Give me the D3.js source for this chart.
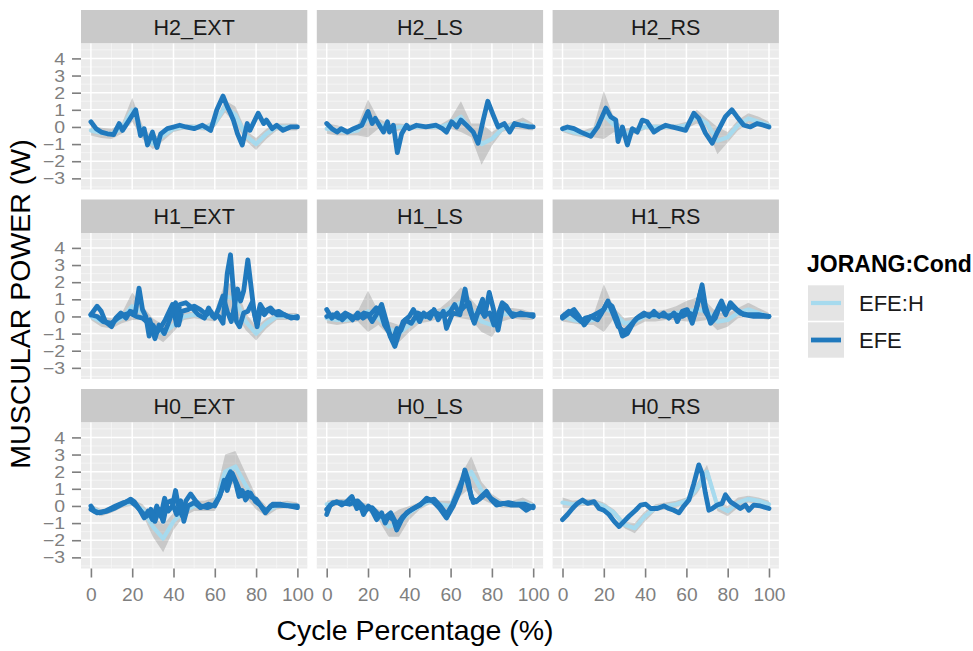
<!DOCTYPE html>
<html>
<head>
<meta charset="utf-8">
<script src="https://cdn.jsdelivr.net/npm/d3@7"></script>
<style>
  body { margin: 0; background: #ffffff; }
  text { font-family: "Liberation Sans", Arial, Helvetica, sans-serif; }
</style>
</head>
<body>
<svg id="chart" width="973" height="651"></svg>
<script>
// ---- data ----------------------------------------------------------------
const facetNames = ["H2_EXT", "H2_LS", "H2_RS", "H1_EXT", "H1_LS", "H1_RS", "H0_EXT", "H0_LS", "H0_RS"];
const xTicks = [0, 20, 40, 60, 80, 100];
const yTicks = [-3, -2, -1, 0, 1, 2, 3, 4];
const legendLabels = ["EFE:H", "EFE"];

// cycle percentage grid for the EFE:H mean curve and its spread
const cyclePct = [0, 5, 10, 15, 20, 25, 30, 35, 40, 45, 50, 55, 60, 65, 70, 75, 80, 85, 90, 95, 100];

// EFE:H mean power (W) and standard deviation, per facet
const meanH2_EXT = [-0.2,-0.35,-0.4,-0.1,1.0,-0.3,-1.0,-0.5,-0.1,0,0,-0.05,0.2,1.2,0.7,-0.5,-1.0,-0.4,0,0,0];
const sdH2_EXT   = [0.3,0.3,0.3,0.3,0.7,0.4,0.3,0.3,0.2,0.15,0.15,0.15,0.2,0.35,0.5,0.3,0.35,0.3,0.2,0.2,0.2];
const meanH2_LS  = [-0.1,-0.2,-0.3,-0.2,0.5,0.2,-0.1,0,0,0,0,0,0.2,0.6,-0.2,-1.0,-0.7,-0.1,0.1,0.2,0];
const sdH2_LS    = [0.3,0.3,0.2,0.3,1.1,0.3,0.3,0.2,0.15,0.15,0.15,0.15,0.3,0.9,0.4,1.2,0.4,0.2,0.2,0.35,0.2];
const meanH2_RS  = [-0.1,-0.3,-0.4,-0.3,0.7,0.1,-0.4,-0.2,0,0,0,0,0.1,0.6,0.2,-0.8,-0.6,0.1,0.5,0.3,0.1];
const sdH2_RS    = [0.2,0.2,0.2,0.3,1.4,0.4,0.3,0.2,0.15,0.15,0.15,0.15,0.2,0.4,0.3,0.8,0.3,0.3,0.3,0.3,0.2];
const meanH1_EXT = [0,-0.3,-0.4,-0.1,0.6,0.2,-0.6,-1.0,-0.5,0,0.1,0,0,1.2,1.0,-0.3,-1.0,-0.4,0,0,0];
const sdH1_EXT   = [0.2,0.3,0.3,0.3,0.8,0.4,0.5,0.5,0.4,0.2,0.2,0.2,0.3,0.8,0.8,0.5,0.4,0.3,0.2,0.2,0.2];
const meanH1_LS  = [-0.1,-0.2,-0.2,0,0.3,-0.1,-0.7,-1.0,-0.5,-0.1,0,0.2,0.5,0.8,0.4,-0.3,-0.5,0.1,0.2,0.1,0];
const sdH1_LS    = [0.3,0.3,0.2,0.3,1.2,0.4,0.4,0.5,0.4,0.3,0.3,0.3,0.5,0.9,0.6,0.6,0.7,0.4,0.3,0.3,0.2];
const meanH1_RS  = [0,-0.2,-0.3,-0.2,0.5,0.2,-0.4,-0.3,0,0,0.1,0.2,0.3,0.4,0.3,-0.3,-0.2,0.2,0.4,0.2,0];
const sdH1_RS    = [0.3,0.2,0.2,0.3,1.4,0.3,0.3,0.3,0.3,0.3,0.3,0.4,0.6,0.7,0.5,0.5,0.4,0.3,0.4,0.3,0.2];
const meanH0_EXT = [-0.1,-0.4,-0.2,0.1,0.2,-0.2,-1.2,-1.9,-0.9,-0.3,0,0,0.1,2.0,2.3,1.2,0.2,-0.3,0,0.1,0];
const sdH0_EXT   = [0.2,0.2,0.2,0.2,0.2,0.3,0.6,0.8,0.5,0.3,0.3,0.3,0.4,1.0,0.9,0.7,0.4,0.3,0.2,0.2,0.2];
const meanH0_LS  = [0.1,0.2,0.2,0.1,-0.1,-0.5,-1.2,-1.0,-0.4,0,0.3,0.1,0,1.2,2.0,0.9,0.4,0.1,0.1,0.2,0];
const sdH0_LS    = [0.2,0.2,0.2,0.2,0.2,0.3,0.6,0.8,0.4,0.2,0.2,0.2,0.3,0.6,0.9,0.5,0.3,0.2,0.2,0.3,0.2];
const meanH0_RS  = [0.2,0.1,0.2,0.2,0,-0.4,-1.1,-1.3,-0.6,-0.1,0,0.1,0.3,1.0,2.0,0.0,-0.3,0.2,0.4,0.3,0.1];
const sdH0_RS    = [0.3,0.2,0.2,0.2,0.2,0.2,0.2,0.3,0.3,0.2,0.2,0.2,0.2,0.3,0.4,0.3,0.3,0.3,0.2,0.2,0.2];

// EFE trials: [cycle %, power W]
const efeH2_EXT_1 = [[0,0.3],[2.5,-0.1],[5,-0.3],[8,-0.4],[11,-0.45],[13.7,0.2],[15.3,-0.2],[18,0.3],[21.7,1.0],[24,-0.5],[25.8,-0.1],[27.4,-1.05],[29.8,-0.3],[32,-1.2],[33.8,-0.4],[37,-0.1],[40,0],[43,0.1],[46,0],[50,-0.1],[54,0.1],[58,-0.2],[61,1.0],[64,1.8],[66,1.2],[67.6,0.8],[69,0.4],[71,-0.4],[73.3,-1.05],[75.7,0.2],[77,-0.2],[81,0.8],[83.7,0.2],[85,0.4],[87.8,-0.1],[90,0.1],[93,-0.2],[96.6,0],[100,0]];
const efeH2_LS_1 = [[0,0.2],[2.5,-0.1],[5,-0.3],[7,-0.1],[10,-0.3],[13,-0.1],[17,0.1],[20,0.9],[22,0.2],[23.5,0.5],[26,0],[27.5,-0.3],[29.4,0.3],[30.4,-0.3],[32.3,0.1],[34.2,-1.5],[36.3,-0.4],[38.7,0.1],[40,-0.1],[43.5,0.1],[48,0],[53,0.1],[56,-0.1],[58,-0.3],[60.5,0.3],[63,0],[65,0.4],[67.7,0.1],[71,-0.3],[73.3,-0.95],[75.8,0.4],[78,1.5],[80.6,0.7],[83,0],[86,0.2],[88.6,-0.3],[91,0.2],[94,0.1],[98,0],[100,0]];
const efeH2_RS_1 = [[0,-0.1],[2.4,0],[5.6,-0.1],[8.9,-0.3],[13.7,-0.55],[17,0],[21,1.1],[23.3,0.6],[25.8,0.4],[26.9,-0.85],[29,0],[31.4,-1.05],[33.8,-0.1],[36.2,-0.3],[38.6,0.4],[41,0.3],[44.3,-0.3],[46.7,-0.1],[50,0.1],[53,0],[56.4,-0.1],[59.6,-0.2],[63.6,0.8],[66,0.5],[69.2,-0.35],[72.5,-0.95],[75,-0.3],[78.9,0.6],[82,1.0],[84.5,0.6],[87.8,0.1],[91,0],[94.2,0.2],[97.4,0.1],[100,0]];
const efeH1_EXT_1 = [[0,0.1],[3,0.6],[5,0.3],[7,-0.3],[10,-0.6],[12,-0.1],[14.5,0.2],[17,-0.1],[19,0.3],[21.5,0.2],[23.3,1.65],[25,0.4],[26.6,0],[28.2,-1.15],[30,-0.5],[32,-0.9],[34,-0.6],[36,-0.2],[39.5,0.7],[41.5,-0.5],[43,0.7],[46,0.8],[49,0.5],[52,0.1],[55,-0.1],[57,0.5],[59,0],[62,0],[64,-0.4],[66,2.5],[67.6,3.6],[69,1.5],[70.5,-0.3],[72,-0.6],[74,0.2],[76,0.3],[78,0.8],[80,-0.3],[82,0.7],[84,0.3],[87,0.5],[90,0.1],[94,0.1],[97,-0.1],[100,0]];
const efeH1_EXT_2 = [[0,0.1],[3,0],[6,-0.3],[10,-0.4],[13,-0.1],[16,0.1],[19,0.2],[22,0],[25,-0.1],[27,-0.3],[28.5,-0.2],[31,-1.3],[33,-0.5],[35.5,-1.0],[37.5,-0.4],[39,0.1],[41,0.8],[42.5,-0.5],[44,0.3],[47,0.4],[50,0.6],[53,0.4],[56,0.1],[58,0.3],[60,-0.1],[62,0.5],[64,1.2],[66,0.3],[68,-0.3],[69.5,0.6],[71,1.6],[72.5,0.9],[74,1.5],[76,3.3],[77.5,1.8],[79,0.3],[80.5,-0.6],[82,0.4],[84,0.1],[86,0.4],[88,0.2],[91,0.3],[95,0],[100,-0.1]];
const efeH1_LS_1 = [[0,0.4],[2.5,-0.1],[5,0.2],[7.5,-0.2],[10,0.1],[12.5,-0.2],[15,0.2],[17.5,-0.1],[20,0.1],[22,-0.3],[24.5,0.2],[26.6,0.7],[28.7,-0.2],[30.7,-1.15],[33,-1.75],[35,-1.0],[37,-0.3],[40,0],[42,0.4],[45,-0.3],[47,0.2],[50,-0.1],[52,0.4],[54,-0.2],[56.5,0.3],[58,-0.7],[61,0.2],[64.5,0.1],[67,1.6],[68.5,0.6],[71.5,-0.4],[74,0.5],[76.5,0],[78.7,1.4],[80.6,0.5],[83,-0.8],[85.4,0.7],[88,0.3],[90,0],[94,0.2],[100,0]];
const efeH1_LS_2 = [[0,0],[3,0.1],[6,-0.1],[9,0.2],[12,0],[15,-0.1],[18,0.2],[21,0.1],[24,0.5],[26,0.3],[28,-0.5],[30,-0.9],[32,-1.4],[34,-0.7],[36,-0.8],[38,-0.2],[41,-0.4],[44,0.2],[48,0],[51,0.3],[55,0.1],[58,0.1],[60,0.3],[62,0.7],[64,0.2],[66,0.5],[69,0.8],[71,-0.2],[73,0.2],[75.5,1.0],[77,0.1],[79,0.2],[81,-0.5],[83,0.1],[85,0.8],[87,0.6],[89,0.2],[92,0.1],[96,0.1],[100,0.1]];
const efeH1_RS_1 = [[0,-0.1],[3.2,0.2],[5.6,0.4],[8,0],[10.5,-0.5],[13.7,0],[17,-0.2],[18.5,0.1],[21.7,0.8],[24,0.6],[26.6,-0.2],[29,-1.15],[31.4,-1.0],[34.6,-0.3],[37,0],[39.5,0.2],[42,0],[44.3,0.3],[46.7,0],[49,0.2],[51.5,-0.1],[54,0.2],[55.6,-0.3],[58,0.3],[60.4,0.4],[62.8,-0.4],[65.2,0.6],[67.6,1.85],[69.2,0.6],[71.7,-0.4],[74,-0.1],[76.5,0.7],[79,0.1],[81.3,0.8],[84.5,0.4],[87.8,0.1],[92.6,0],[100,0]];
const efeH1_RS_2 = [[0,0],[3,0.3],[6,0],[9,-0.3],[11,-0.1],[14,0],[17,0.2],[20,0.4],[22,0.9],[24,0.3],[27,-0.6],[30,-0.9],[33,-0.5],[36,-0.1],[40,0.1],[45,0.1],[50,0],[55,0.1],[58,0],[61,0.2],[64,0.1],[67,1.5],[69,0.3],[72,-0.3],[75,0.4],[77,0.9],[79,0.3],[82,0.6],[86,0.2],[90,0.1],[95,0.1],[100,0]];
const efeH0_EXT_1 = [[0,0],[1.6,-0.3],[4,-0.4],[8,-0.3],[12,-0.1],[16,0.15],[19.3,0.4],[21,0.25],[23.3,-0.15],[25.8,-0.7],[27.7,-0.3],[29.8,-0.8],[31.9,0],[33.8,-0.6],[35.7,0.45],[37.4,-0.3],[39.5,0],[41,0.9],[42.7,-0.2],[44.3,-0.6],[46,0.3],[48.3,0.7],[50.7,0.3],[53,0],[56.4,-0.1],[59.6,0.05],[62,0.5],[64.4,1.2],[67.6,2.0],[70,1.4],[71.7,0.55],[73.3,0.9],[74.9,0.35],[77.3,0.75],[79.7,0.25],[82,0.05],[84.5,-0.4],[87,0],[90,0.05],[95,0],[100,0]];
const efeH0_EXT_2 = [[0,-0.2],[3,-0.4],[7,-0.3],[12,0],[16,0.2],[19,0.3],[22,0],[25,-0.4],[27,-0.6],[29,-0.2],[31,-0.9],[33,-0.2],[35,-0.9],[37,0.2],[39,0.3],[41.5,-0.5],[43.5,0.3],[45,-0.9],[47,0],[50,0.2],[53,-0.1],[57,0.1],[60,0],[62.5,0.6],[64.5,1.5],[66,0.9],[68.5,1.9],[71,1.2],[73,0.6],[76,0.8],[78,0.5],[80,0.4],[83,-0.1],[85,-0.3],[88,0.1],[92,0.1],[96,0],[100,-0.1]];
const efeH0_LS_1 = [[0,-0.5],[1.7,0.05],[4.9,0.25],[7.3,0.05],[9.7,0.25],[12.2,0.55],[14.6,-0.15],[16.2,0.05],[17.8,-0.5],[20.2,0],[21.8,-0.25],[24.2,-0.8],[26.6,-0.4],[28.3,-1.0],[29.9,-0.6],[32.3,-0.8],[33.9,-1.4],[36.3,-0.8],[38.7,-0.4],[41.9,-0.15],[45.2,0.05],[48.4,0.45],[51.6,0.25],[54.8,-0.15],[58,-0.7],[61.3,0],[64.5,0.9],[66.9,2.1],[68.5,1.5],[70.1,0.45],[72.5,0.25],[74.9,0.55],[77.4,0.85],[79.8,0.35],[82.2,0.05],[85.4,0.15],[89.4,0.05],[93.5,0.05],[96.7,-0.25],[100,0]];
const efeH0_LS_2 = [[0,-0.2],[3,0.2],[7,0.2],[11,0.1],[15,0.3],[19,-0.2],[22,-0.1],[25,-0.5],[28,-0.7],[31,-0.4],[34,-1.1],[37,-0.6],[40,-0.3],[44,0],[48,0.3],[52,0.4],[55,0],[58,-0.5],[61,0.1],[64,1.0],[67,1.9],[69,1.0],[71,0.2],[74,0.4],[77,0.7],[80,0.4],[84,0.1],[88,0.2],[92,0.1],[96,0.1],[100,-0.1]];
const efeH0_RS_1 = [[0,-0.8],[2.4,-0.5],[4.8,-0.15],[7.2,0.15],[9.7,0.35],[12.1,0.15],[15.3,0.25],[17.7,-0.15],[20,-0.25],[22.5,-0.5],[25,-0.9],[27.4,-1.2],[29.8,-0.9],[32.2,-0.6],[35.4,-0.25],[37.8,0.05],[40.3,0.1],[42.7,-0.15],[45.9,-0.15],[49.1,0],[51.5,-0.15],[53.9,-0.25],[56.4,-0.4],[58.8,0],[61.2,0.35],[63.6,1.3],[66,2.4],[67.6,1.9],[69.2,0.75],[70.9,-0.25],[72.5,-0.15],[74.9,0.05],[77.3,0.15],[78.9,0.65],[81.3,0.25],[83.7,0.05],[86.1,-0.15],[88.6,0.05],[90.2,-0.25],[92.6,0.05],[95.8,0],[100,-0.15]];

// facet table assembled from the arrays above
const facetTable = [
  { name: "H2_EXT", mean: meanH2_EXT, sd: sdH2_EXT, trials: [efeH2_EXT_1] },
  { name: "H2_LS",  mean: meanH2_LS,  sd: sdH2_LS,  trials: [efeH2_LS_1] },
  { name: "H2_RS",  mean: meanH2_RS,  sd: sdH2_RS,  trials: [efeH2_RS_1] },
  { name: "H1_EXT", mean: meanH1_EXT, sd: sdH1_EXT, trials: [efeH1_EXT_1, efeH1_EXT_2] },
  { name: "H1_LS",  mean: meanH1_LS,  sd: sdH1_LS,  trials: [efeH1_LS_1, efeH1_LS_2] },
  { name: "H1_RS",  mean: meanH1_RS,  sd: sdH1_RS,  trials: [efeH1_RS_1, efeH1_RS_2] },
  { name: "H0_EXT", mean: meanH0_EXT, sd: sdH0_EXT, trials: [efeH0_EXT_1, efeH0_EXT_2] },
  { name: "H0_LS",  mean: meanH0_LS,  sd: sdH0_LS,  trials: [efeH0_LS_1, efeH0_LS_2] },
  { name: "H0_RS",  mean: meanH0_RS,  sd: sdH0_RS,  trials: [efeH0_RS_1] }
];

// ---- layout ----------------------------------------------------------------
const panelLeft = 81, panelW = 226.3, colGap = 9.5;
const gridTop = 10, stripH = 33.5, panelH = 146, rowGap = 10;

const colorH = "#a6daee";
const colorE = "#2079bd";
const axisGrey = "#7f7f7f";

const svg = d3.select("#chart");

const x = d3.scaleLinear().domain([-4.8, 104.8]).range([0, panelW]);
const y = d3.scaleLinear().domain([-3.65, 4.87]).range([panelH, 0]);

const ribbon = d3.area()
  .x((d, i) => x(cyclePct[i]))
  .y0(d => y(d[0] - d[1]))
  .y1(d => y(d[0] + d[1]));
const meanLine = d3.line().x((d, i) => x(cyclePct[i])).y(d => y(d));
const trialLine = d3.line().x(d => x(d[0])).y(d => y(d[1]));

const xMinor = [10, 30, 50, 70, 90];
const yMinor = d3.range(-3.5, 5, 1);

facetTable.forEach((f, k) => {
  const col = k % 3, row = Math.floor(k / 3);
  const left = panelLeft + col * (panelW + colGap);
  const stripTop = gridTop + row * (stripH + panelH + rowGap);
  const top = stripTop + stripH;

  // strip
  svg.append("rect")
    .attr("x", left).attr("y", stripTop)
    .attr("width", panelW).attr("height", stripH)
    .attr("fill", "#c9c9c9");
  svg.append("text")
    .attr("x", left + panelW / 2).attr("y", stripTop + stripH / 2 + 7.8)
    .attr("text-anchor", "middle")
    .attr("font-size", 21.5).attr("fill", "#1a1a1a")
    .text(f.name);

  const g = svg.append("g").attr("transform", `translate(${left},${top})`);
  const clipId = "clip" + k;
  g.append("clipPath").attr("id", clipId)
    .append("rect").attr("width", panelW).attr("height", panelH);

  g.append("rect").attr("width", panelW).attr("height", panelH).attr("fill", "#ebebeb");

  // grid
  g.selectAll(".ymin").data(yMinor).enter().append("line")
    .attr("x1", 0).attr("x2", panelW).attr("y1", d => y(d)).attr("y2", d => y(d))
    .attr("stroke", "#f6f6f6").attr("stroke-width", 0.8);
  g.selectAll(".xmin").data(xMinor).enter().append("line")
    .attr("y1", 0).attr("y2", panelH).attr("x1", d => x(d)).attr("x2", d => x(d))
    .attr("stroke", "#f6f6f6").attr("stroke-width", 0.8);
  g.selectAll(".ymaj").data(yTicks).enter().append("line")
    .attr("x1", 0).attr("x2", panelW).attr("y1", d => y(d)).attr("y2", d => y(d))
    .attr("stroke", "#ffffff").attr("stroke-width", 1.5);
  g.selectAll(".xmaj").data(xTicks).enter().append("line")
    .attr("y1", 0).attr("y2", panelH).attr("x1", d => x(d)).attr("x2", d => x(d))
    .attr("stroke", "#ffffff").attr("stroke-width", 1.5);

  const data = g.append("g").attr("clip-path", `url(#${clipId})`);
  const pairs = f.mean.map((m, i) => [m, f.sd[i]]);

  data.append("path").attr("d", ribbon(pairs))
    .attr("fill", "#8a8a8a").attr("fill-opacity", 0.36);
  data.append("path").attr("d", meanLine(f.mean))
    .attr("fill", "none").attr("stroke", colorH).attr("stroke-width", 4.2)
    .attr("stroke-linejoin", "round").attr("stroke-linecap", "round");
  f.trials.forEach(t => {
    data.append("path").attr("d", trialLine(t))
      .attr("fill", "none").attr("stroke", colorE).attr("stroke-width", 4.8)
      .attr("stroke-linejoin", "round").attr("stroke-linecap", "round");
  });

  // axes on the outer panels
  if (col === 0) {
    const ay = g.append("g").call(d3.axisLeft(y).tickValues(yTicks).tickSize(9).tickFormat(""));
    ay.select(".domain").remove();
    ay.selectAll("line").attr("stroke", axisGrey).attr("stroke-width", 1.6);
    // tick labels: narrow line spacing, so glyphs are set slightly condensed vertically
    ay.selectAll(".tick").append("text")
      .attr("transform", "translate(-16,0) scale(1,0.8)")
      .attr("dy", "0.36em")
      .attr("text-anchor", "end")
      .attr("font-size", 19.5).attr("fill", axisGrey)
      .attr("font-family", "Liberation Sans, Arial, sans-serif")
      .text(d => d3.format("d")(d));
  }
  if (row === 2) {
    const ax = g.append("g").attr("transform", `translate(0,${panelH})`)
      .call(d3.axisBottom(x).tickValues(xTicks).tickSize(9).tickPadding(10).tickFormat(d3.format("d")));
    ax.select(".domain").remove();
    ax.selectAll("line").attr("stroke", axisGrey).attr("stroke-width", 1.6);
    ax.selectAll("text").attr("font-size", 19.2).attr("fill", axisGrey)
      .attr("font-family", "Liberation Sans, Arial, sans-serif");
  }
});

// axis titles
svg.append("text")
  .attr("x", 415).attr("y", 640)
  .attr("text-anchor", "middle").attr("font-size", 28.5).attr("fill", "#000")
  .text("Cycle Percentage (%)");
svg.append("text")
  .attr("transform", "translate(30,304) rotate(-90)")
  .attr("text-anchor", "middle").attr("font-size", 28.5).attr("fill", "#000")
  .text("MUSCULAR POWER (W)");

// legend
const lg = svg.append("g");
lg.append("text").attr("x", 807).attr("y", 272)
  .attr("font-size", 23).attr("font-weight", "bold").attr("fill", "#000")
  .text("JORANG:Cond");
const keyColors = [colorH, colorE];
const keyWidths = [4.2, 4.8];
legendLabels.forEach((lab, i) => {
  const ky = 285 + i * 37;
  lg.append("rect").attr("x", 808).attr("y", ky).attr("width", 36).attr("height", 36)
    .attr("fill", "#ececec");
  lg.append("rect").attr("x", 808).attr("y", ky + 1).attr("width", 36).attr("height", 34)
    .attr("fill", "#8a8a8a").attr("fill-opacity", 0.08);
  lg.append("line").attr("x1", 811).attr("x2", 841)
    .attr("y1", ky + 18).attr("y2", ky + 18)
    .attr("stroke", keyColors[i]).attr("stroke-width", keyWidths[i]);
  lg.append("text").attr("x", 859).attr("y", ky + 26)
    .attr("font-size", 22).attr("fill", "#1a1a1a").text(lab);
});
</script>
</body>
</html>
